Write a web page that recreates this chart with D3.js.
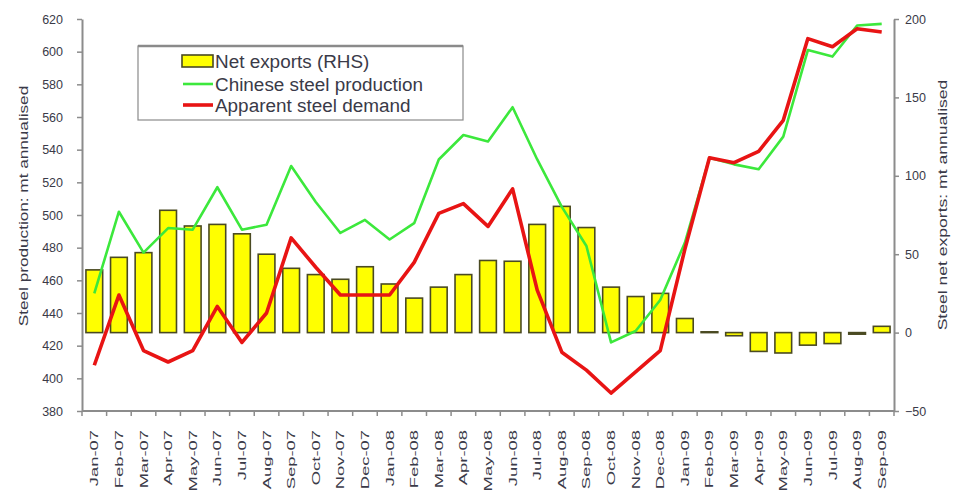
<!DOCTYPE html>
<html>
<head>
<meta charset="utf-8">
<script src="https://cdn.jsdelivr.net/npm/d3@7"></script>
<style>
  html, body { margin: 0; padding: 0; background: #fff; }
  svg { display: block; }
  text { font-family: "Liberation Sans", Arial, sans-serif; fill: #3a3a48; }
</style>
</head>
<body>
<svg id="chart" width="958" height="495"></svg>
<script>
// Monthly categories
const months = [
  "Jan-07","Feb-07","Mar-07","Apr-07","May-07","Jun-07","Jul-07","Aug-07","Sep-07","Oct-07","Nov-07","Dec-07",
  "Jan-08","Feb-08","Mar-08","Apr-08","May-08","Jun-08","Jul-08","Aug-08","Sep-08","Oct-08","Nov-08","Dec-08",
  "Jan-09","Feb-09","Mar-09","Apr-09","May-09","Jun-09","Jul-09","Aug-09","Sep-09"
];
// Net exports, mt annualised (right axis)
const netExports = [40,48,51,78,68,69,63,50,41,37,34,42,31,22,29,37,46,45.5,69,80.5,67,29,23,25,9,0.5,-2,-12,-13,-8,-7,-1,4];
// Chinese steel production, mt annualised (left axis)
const production = [452,502,477,492,491,517,491,494,530,508,489,497,485,495,534,549,545,566,534,505,481,422,429,448,483,535,531,528,548,601,597,616,617];
// Apparent steel demand, mt annualised (left axis)
const demand = [408,451,417,410,417,444,422,440,486,468,451,451,451,471,501,507,493,516,454,416,405,391,404,417,479,535,532,539,558,608,603,614,612];

const leftTicks = [380,400,420,440,460,480,500,520,540,560,580,600,620];
const rightTicks = [-50,0,50,100,150,200];
const leftTitle = "Steel production: mt annualised";
const rightTitle = "Steel net exports: mt annualised";
const legendLabels = ["Net exports (RHS)", "Chinese steel production", "Apparent steel demand"];

const svg = d3.select("#chart");
const plot = { left: 82, right: 894, top: 19, bottom: 411 };

const x = d3.scaleBand().domain(months).range([plot.left, plot.right]).padding(0);
const yL = d3.scaleLinear().domain([380, 620]).range([plot.bottom, plot.top]);
const yR = d3.scaleLinear().domain([-50, 200]).range([plot.bottom, plot.top]);

// stretch a text element along its own writing direction
function stretch(sel, k) {
  sel.each(function() {
    const len = this.getComputedTextLength();
    d3.select(this).attr("textLength", len * k).attr("lengthAdjust", "spacingAndGlyphs");
  });
}

// Bars: net exports
const barW = x.bandwidth() * 0.68;
svg.append("g").selectAll("rect")
  .data(months.map((m, i) => ({ m, v: netExports[i] })))
  .join("rect")
  .attr("x", d => x(d.m) + (x.bandwidth() - barW) / 2)
  .attr("width", barW)
  .attr("y", d => Math.min(yR(d.v), yR(0)))
  .attr("height", d => Math.max(Math.abs(yR(d.v) - yR(0)), 0.8))
  .attr("fill", "#ffff00")
  .attr("stroke", "#4a4a22")
  .attr("stroke-width", 1.6);

// Lines
const lineL = d3.line()
  .x((d, i) => x(months[i]) + x.bandwidth() / 2)
  .y(d => yL(d));

svg.append("path").datum(production)
  .attr("d", lineL).attr("fill", "none")
  .attr("stroke", "#3ce83c").attr("stroke-width", 2.6).attr("stroke-linejoin", "round");
svg.append("path").datum(demand)
  .attr("d", lineL).attr("fill", "none")
  .attr("stroke", "#e81414").attr("stroke-width", 3.6).attr("stroke-linejoin", "round");

// Axes
const axisColor = "#8c8c8c";
const gL = svg.append("g").attr("transform", `translate(${plot.left},0)`)
  .call(d3.axisLeft(yL).tickValues(leftTicks).tickSize(5).tickSizeOuter(0).tickPadding(14));
const gR = svg.append("g").attr("transform", `translate(${plot.right},0)`)
  .call(d3.axisRight(yR).tickValues(rightTicks).tickSize(5).tickSizeOuter(0).tickPadding(6));
[gL, gR].forEach(g => {
  g.select(".domain").attr("stroke", axisColor).attr("stroke-width", 2);
  g.selectAll(".tick line").attr("stroke", axisColor).attr("stroke-width", 1.5);
  g.selectAll(".tick text").attr("font-size", 12.5).attr("fill", "#3a3a48")
    .style("font-family", "'Liberation Sans', Arial, sans-serif");
});

// Bottom axis line and ticks at month boundaries
svg.append("line")
  .attr("x1", plot.left).attr("x2", plot.right)
  .attr("y1", plot.bottom).attr("y2", plot.bottom)
  .attr("stroke", axisColor).attr("stroke-width", 2);
svg.append("g").selectAll("line")
  .data(months.concat(["end"]))
  .join("line")
  .attr("x1", (d, i) => i < months.length ? x(d) : plot.right)
  .attr("x2", (d, i) => i < months.length ? x(d) : plot.right)
  .attr("y1", plot.bottom).attr("y2", plot.bottom + 5)
  .attr("stroke", axisColor).attr("stroke-width", 1.5);

// Month labels, vertical
const xl = svg.append("g").selectAll("text")
  .data(months)
  .join("text")
  .attr("transform", d => `translate(${x(d) + x.bandwidth() / 2},430) rotate(-90)`)
  .attr("text-anchor", "end")
  .attr("dy", "0.35em")
  .attr("font-size", 11.5)
  .text(d => d);
stretch(xl, 1.6);

// Axis titles
const tl = svg.append("text")
  .attr("transform", `translate(23,206) rotate(-90)`)
  .attr("text-anchor", "middle").attr("dy", "0.35em")
  .attr("font-size", 13).text(leftTitle);
stretch(tl, 1.32);
const tr = svg.append("text")
  .attr("transform", `translate(942,205) rotate(-90)`)
  .attr("text-anchor", "middle").attr("dy", "0.35em")
  .attr("font-size", 13).text(rightTitle);
stretch(tr, 1.35);

// Legend
const lg = svg.append("g");
lg.append("rect").attr("x", 138).attr("y", 46).attr("width", 325).attr("height", 74)
  .attr("fill", "#fff").attr("stroke", "#8a8a8a").attr("stroke-width", 1.2);
lg.append("line").attr("x1", 138).attr("x2", 463).attr("y1", 46).attr("y2", 46)
  .attr("stroke", "#8a8a8a").attr("stroke-width", 2.5);
const rowY = [61, 84, 105];
lg.append("rect").attr("x", 182).attr("y", rowY[0] - 6).attr("width", 31).attr("height", 12)
  .attr("fill", "#ffff00").attr("stroke", "#4a4a22").attr("stroke-width", 1.6);
lg.append("line").attr("x1", 183).attr("x2", 213).attr("y1", rowY[1]).attr("y2", rowY[1])
  .attr("stroke", "#3ce83c").attr("stroke-width", 2.6);
lg.append("line").attr("x1", 183).attr("x2", 213).attr("y1", rowY[2]).attr("y2", rowY[2])
  .attr("stroke", "#e81414").attr("stroke-width", 3.6);
const lt = lg.selectAll("text.lab")
  .data(legendLabels)
  .join("text")
  .attr("class", "lab")
  .attr("x", 215)
  .attr("y", (d, i) => rowY[i] + 6.5)
  .attr("font-size", 18)
  .attr("fill", "#222236")
  .text(d => d);
stretch(lt, 1.05);
</script>
</body>
</html>
